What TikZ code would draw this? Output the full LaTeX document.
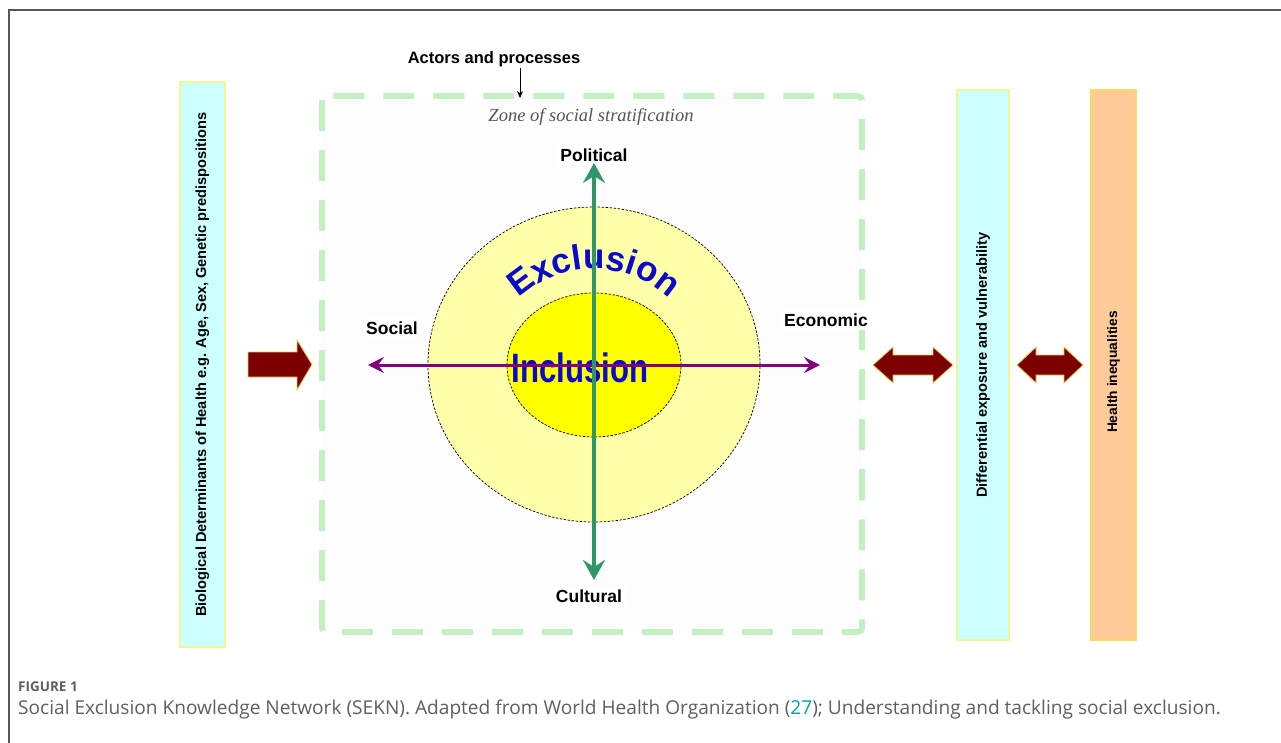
\documentclass[tikz,border=0pt]{standalone}
\usepackage{fontspec}
\setmainfont{Liberation Sans}
\newfontfamily\capfont{Open Sans}
\newfontfamily\zonefont{Liberation Serif}
\usetikzlibrary{arrows.meta,decorations.text,shapes.geometric}
\definecolor{framegrey}{RGB}{85,85,85}
\definecolor{zonegreen}{RGB}{195,240,195}
\definecolor{zonefill}{RGB}{252,253,252}
\definecolor{barcyan}{RGB}{204,255,255}
\definecolor{barpeach}{RGB}{255,204,153}
\definecolor{baredge}{RGB}{240,245,150}
\definecolor{peachedge}{RGB}{255,215,100}
\definecolor{blockred}{RGB}{125,0,0}
\definecolor{blockedge}{RGB}{235,200,80}
\definecolor{outeryellow}{RGB}{255,255,170}
\definecolor{inneryellow}{RGB}{255,255,0}
\definecolor{axisgreen}{RGB}{46,150,105}
\definecolor{axispurple}{RGB}{128,0,128}
\definecolor{wordblue}{RGB}{10,10,205}
\definecolor{captiongrey}{RGB}{95,95,95}
\definecolor{citeteal}{RGB}{0,160,170}
\tikzset{
  barbox/.style={draw, line width=1.2pt, rotate=90, inner sep=0pt,
    font=\fontsize{14.6}{16}\selectfont\bfseries},
  axislabel/.style={fill=white, inner sep=4pt, font=\fontsize{17.5}{20}\selectfont\bfseries},
  blockarrow/.style={fill=blockred, draw=blockedge, line width=0.8pt, line join=miter},
  ring/.style={ellipse, draw=black, dashed, dash pattern=on 2.5pt off 1.5pt, line width=0.7pt, inner sep=0pt},
  greenaxis/.style={draw=axisgreen, line width=4pt,
    {Stealth[length=20pt,width=22pt,inset=7pt]}-{Stealth[length=20pt,width=22pt,inset=7pt]}},
  purpleaxis/.style={draw=axispurple, line width=3pt,
    {Stealth[length=16pt,width=16pt,inset=6pt]}-{Stealth[length=16pt,width=16pt,inset=6pt]}},
}
\begin{document}
\begin{tikzpicture}[x=1pt,y=1pt]
\useasboundingbox (0,0) rectangle (1281,-743);
\fill[white] (0,0) rectangle (1281,-743);
% page frame
\draw[framegrey, line width=1.5pt] (9,-743) -- (9,-10) -- (1281,-10);

% zone of social stratification
\draw[zonegreen, fill=zonefill, line width=6pt, dash pattern=on 31pt off 19pt, rounded corners=4pt]
  (322,-96) rectangle (862,-632);
\node[text=framegrey, font=\zonefont\itshape\fontsize{18.5}{20}\selectfont] (zone) at (591,-117) {Zone of social stratification};

% actors
\node[font=\fontsize{16.5}{19}\selectfont\bfseries, inner sep=1pt] (actors) at (494,-59) {Actors and processes};
\coordinate (actend) at (520,-98);
\draw[line width=0.9pt, -{Stealth[length=7pt,width=6pt]}] (actors.south -| actend) -- (actend);

% side bars
\node[barbox, fill=barcyan, draw=baredge, minimum width=565, minimum height=45] (bio) at (202.5,-364.5)
  {Biological Determinants of Health e.g. Age, Sex, Genetic predispositions};
\node[barbox, fill=barcyan, draw=baredge, minimum width=550, minimum height=52] (diff) at (983,-365)
  {Differential exposure and vulnerability};
\node[barbox, fill=barpeach, draw=peachedge, minimum width=550, minimum height=45] (hineq) at (1113.5,-365) {};
\node[rotate=90, inner sep=0pt, font=\fontsize{13.8}{16}\selectfont\bfseries] (hineqtext) at (1113.5,-372) {Health inequalities};

% block arrows
\fill[blockarrow] (248,-352) -- (297,-352) -- (297,-340) -- (312,-364.5) -- (297,-390) -- (297,-377) -- (248,-377) -- cycle;
\fill[blockarrow] (873,-365) -- (893,-347) -- (893,-355) -- (933,-355) -- (933,-347) -- (953,-365)
  -- (933,-383) -- (933,-375) -- (893,-375) -- (893,-383) -- cycle;
\fill[blockarrow] (1017,-365) -- (1036,-347) -- (1036,-355) -- (1064,-355) -- (1064,-347) -- (1083,-365)
  -- (1064,-383) -- (1064,-375) -- (1036,-375) -- (1036,-383) -- cycle;

% rings
\node[ring, fill=outeryellow, minimum width=332, minimum height=315] (outer) at (594,-364.5) {};
\node[ring, fill=inneryellow, minimum width=174, minimum height=144] (inner) at (594,-365) {};

% exclusion text along arc
\path[decorate, decoration={text along path, text align=center,
  text={|\fontsize{35}{38}\selectfont\bfseries\color{wordblue}|Exclusion}}]
  (594,-380) ++(155:111) arc[start angle=155, end angle=25, radius=111];

% axis labels
\node[axislabel] (political) at (594,-155) {Political};
\node[axislabel] (cultural) at (589,-596) {Cultural};
\node[axislabel] (social) at (392,-328) {Social};
\node[axislabel] (economic) at (826,-320) {Economic};

% inclusion
\node[text=wordblue, inner sep=0pt] (incl) at (580,-368)
  {\scalebox{0.76}[1]{\fontsize{41}{44}\selectfont\bfseries Inclusion}};

% axes
\coordinate (west) at (368,-365);
\coordinate (east) at (820,-365);
\draw[purpleaxis] (west) -- (east);
\coordinate (north) at (594,-163);
\coordinate (south) at (594,-580);
\draw[greenaxis] (south) -- (north);

% caption
\node[anchor=base west, inner sep=0pt, text=captiongrey, font=\capfont\bfseries\fontsize{13.5}{15}\selectfont] (figno) at (18,-691) {FIGURE 1};
\node[anchor=base west, inner sep=0pt, text=captiongrey, font=\capfont\fontsize{19.1}{22}\selectfont] (caption) at (18,-714)
  {Social Exclusion Knowledge Network (SEKN). Adapted from World Health Organization (\textcolor{citeteal}{27}); Understanding and tackling social exclusion.};
\end{tikzpicture}
\end{document}
